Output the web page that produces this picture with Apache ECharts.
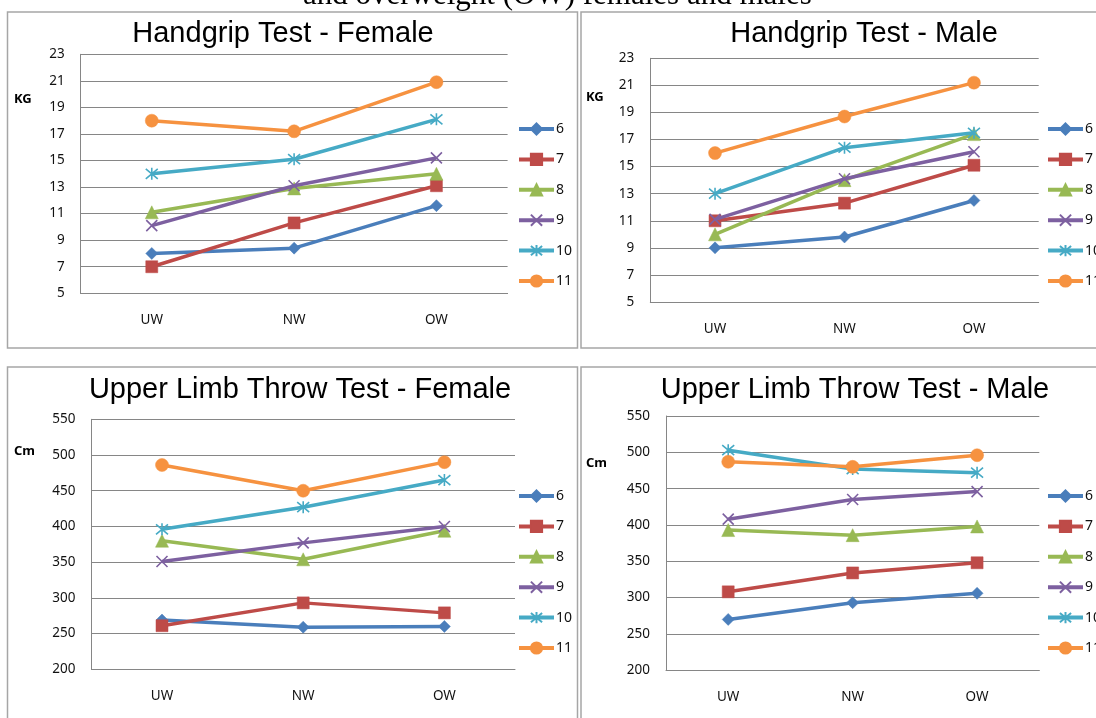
<!DOCTYPE html>
<html>
<head>
<meta charset="utf-8">
<script src="https://cdn.jsdelivr.net/npm/echarts@6/dist/echarts.min.js"></script>
<style>
html,body{margin:0;padding:0;background:#fff;}
#chart{width:1096px;height:718px;}
</style>
</head>
<body>
<div id="chart"></div>
<script>
// ---- data ----
const categories = ['UW', 'NW', 'OW'];
const ageGroups = ['6', '7', '8', '9', '10', '11'];

// rows follow ageGroups, columns follow categories
const handgripFemale = [
  [8.0, 8.4, 11.6],
  [7.0, 10.3, 13.1],
  [11.1, 12.9, 14.0],
  [10.1, 13.1, 15.2],
  [14.0, 15.1, 18.1],
  [18.0, 17.2, 20.9]
];
const handgripMale = [
  [9.0, 9.8, 12.5],
  [11.0, 12.3, 15.1],
  [10.0, 14.0, 17.4],
  [11.1, 14.1, 16.1],
  [13.0, 16.4, 17.5],
  [16.0, 18.7, 21.2]
];
const throwFemale = [
  [269, 259, 260],
  [261, 293, 279],
  [380, 354, 394],
  [351, 377, 400],
  [396, 427, 465],
  [486, 450, 490]
];
const throwMale = [
  [270, 293, 306],
  [308, 334, 348],
  [393, 386, 398],
  [408, 435, 446],
  [503, 477, 472],
  [487, 480, 496]
];
const handgripTicks = { min: 5, max: 23, interval: 2 };
const throwTicks = { min: 200, max: 550, interval: 50 };
const panelTitles = ['Handgrip Test - Female', 'Handgrip Test - Male', 'Upper Limb Throw Test - Female', 'Upper Limb Throw Test - Male'];
const unitLabels = ['KG', 'KG', 'Cm', 'Cm'];
const caption = 'and overweight (OW) females and males';

// ---- styles ----
const colors = ['#4A7EBB', '#BE4B48', '#98B954', '#7D60A0', '#46AAC5', '#F69240'];
const symbols = ['diamond', 'rect', 'triangle',
  'path://M0,0L10,10M10,0L0,10',
  'path://M0,0L10,10M10,0L0,10M5,-1L5,11',
  'circle'];
const symbolSizes = [12, 12, 13, 11, 12, 13];

const panels = [
  { data: handgripFemale, ticks: handgripTicks, grid: { left: 80.6, top: 54.3, width: 427, height: 239 }, titleX: 283, titleY: 34, unitX: 14, unitY: 99, legendLeft: 517, legendTop: 122, border: [7.5, 12, 570, 336] },
  { data: handgripMale, ticks: handgripTicks, grid: { left: 650.3, top: 58.3, width: 388.4, height: 243.7 }, titleX: 864, titleY: 34, unitX: 586, unitY: 97, legendLeft: 1046, legendTop: 122, border: [581, 12, 530, 336] },
  { data: throwFemale, ticks: throwTicks, grid: { left: 91.4, top: 419.3, width: 423.6, height: 250 }, titleX: 300, titleY: 390, unitX: 14, unitY: 451, legendLeft: 517, legendTop: 489, border: [7.5, 367, 570, 380] },
  { data: throwMale, ticks: throwTicks, grid: { left: 666, top: 416, width: 373.3, height: 254.3 }, titleX: 855, titleY: 390, unitX: 586, unitY: 463, legendLeft: 1046, legendTop: 489, border: [581, 367, 530, 380] }
];

const axisGrey = '#868686';
const labelFont = 'Noto Sans';

const option = {
  animation: false,
  backgroundColor: '#ffffff',
  grid: [], xAxis: [], yAxis: [], series: [], legend: [], graphic: []
};

panels.forEach((p, pi) => {
  option.grid.push(Object.assign({ containLabel: false }, p.grid));
  option.xAxis.push({
    type: 'category', gridIndex: pi, data: categories, boundaryGap: true,
    axisLine: { show: true, lineStyle: { color: axisGrey, width: 1 } },
    axisTick: { show: false },
    axisLabel: { margin: 20, fontSize: 13.5, color: '#111', fontFamily: labelFont }
  });
  option.yAxis.push({
    type: 'value', gridIndex: pi, min: p.ticks.min, max: p.ticks.max, interval: p.ticks.interval,
    axisLine: { show: true, lineStyle: { color: axisGrey, width: 1 } },
    axisTick: { show: false },
    splitLine: { show: true, lineStyle: { color: axisGrey, width: 1 } },
    axisLabel: { margin: 16, fontSize: 13.5, color: '#111', fontFamily: labelFont }
  });
  ageGroups.forEach((age, si) => {
    option.series.push({
      type: 'line', name: age, xAxisIndex: pi, yAxisIndex: pi,
      data: p.data[si],
      symbol: symbols[si], symbolSize: symbolSizes[si], showSymbol: true,
      lineStyle: { color: colors[si], width: 3.5 },
      itemStyle: { color: colors[si], borderColor: colors[si], borderWidth: si === 3 || si === 4 ? 1.6 : 0.5 },
      emphasis: { disabled: true },
      z: 2 + si
    });
  });
  option.legend.push({
    data: ageGroups, orient: 'vertical', left: p.legendLeft, top: p.legendTop,
    itemWidth: 35, itemHeight: 14, itemGap: 16.4, padding: 0,
    lineStyle: { width: 4 },
    textStyle: { fontSize: 14, color: '#111', fontFamily: labelFont, padding: [0, 0, 0, -3] },
    selectedMode: false
  });
  option.graphic.push({
    type: 'rect', z: -10, silent: true,
    shape: { x: p.border[0], y: p.border[1], width: p.border[2], height: p.border[3] },
    style: { fill: 'none', stroke: '#A6A6A6', lineWidth: 1.5 }
  });
  option.graphic.push({
    type: 'text', x: p.titleX, y: p.titleY, silent: true,
    style: { text: panelTitles[pi], font: '29px "Liberation Sans", Arial, sans-serif', fill: '#000', textAlign: 'center', textVerticalAlign: 'middle' }
  });
  option.graphic.push({
    type: 'text', x: p.unitX, y: p.unitY, silent: true,
    style: { text: unitLabels[pi], font: 'bold 13px "Noto Sans", sans-serif', fill: '#000', textAlign: 'left', textVerticalAlign: 'middle' }
  });
});

option.graphic.push({
  type: 'text', x: 303, y: -4.5, silent: true,
  style: { text: caption, font: '31px "Liberation Serif", serif', fill: '#000', textAlign: 'left', textVerticalAlign: 'middle' }
});

const chart = echarts.init(document.getElementById('chart'), null, { renderer: 'canvas' });
chart.setOption(option);
</script>
</body>
</html>
